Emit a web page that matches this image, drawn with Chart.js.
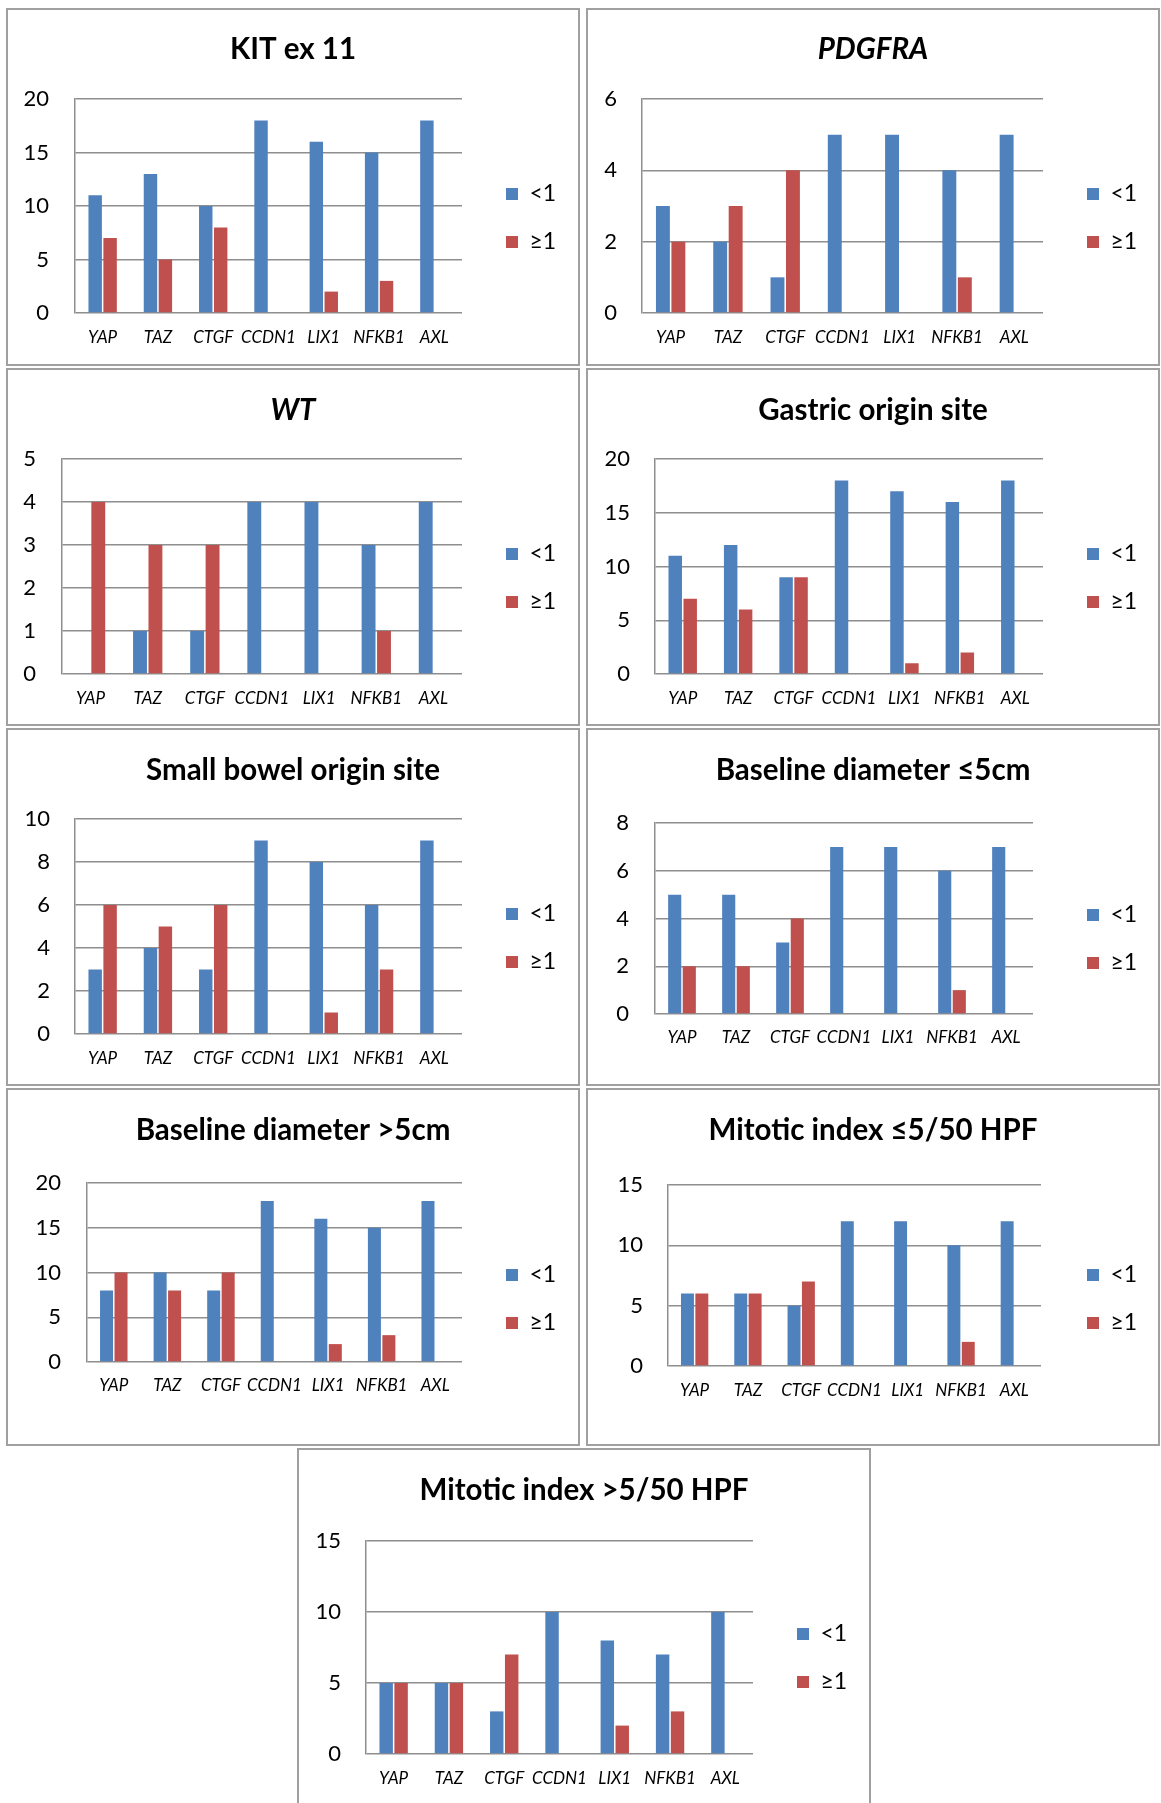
<!DOCTYPE html>
<html>
<head>
<meta charset="utf-8">
<script src="https://cdn.jsdelivr.net/npm/chart.js@4.4.1/dist/chart.umd.min.js"></script>
<style>
body { margin: 0; background: #fff; width: 1161px; height: 1803px; overflow: hidden; position: relative; }
.panel { position: absolute; width: 574px; height: 358px; }
.frame { position: absolute; left: 0; top: 0; width: 574px; height: 358px; box-sizing: border-box; border: 2px solid #a0a0a0; }
.panel canvas { position: absolute; left: 0; top: 0; }
</style>
</head>
<body>
<script>
var categories = ['YAP', 'TAZ', 'CTGF', 'CCDN1', 'LIX1', 'NFKB1', 'AXL'];
var seriesNames = ['<1', '\u22651'];

var titles = ['KIT ex 11', 'PDGFRA', 'WT', 'Gastric origin site', 'Small bowel origin site',
    'Baseline diameter \u22645cm', 'Baseline diameter >5cm', 'Mitotic index \u22645/50 HPF', 'Mitotic index >5/50 HPF'];
var italicTitle = [false, true, true, false, false, false, false, false, false];

var kitLow = [11, 13, 10, 18, 16, 15, 18];
var kitHigh = [7, 5, 8, 0, 2, 3, 0];
var pdgfraLow = [3, 2, 1, 5, 5, 4, 5];
var pdgfraHigh = [2, 3, 4, 0, 0, 1, 0];
var wtLow = [0, 1, 1, 4, 4, 3, 4];
var wtHigh = [4, 3, 3, 0, 0, 1, 0];
var gastricLow = [11, 12, 9, 18, 17, 16, 18];
var gastricHigh = [7, 6, 9, 0, 1, 2, 0];
var bowelLow = [3, 4, 3, 9, 8, 6, 9];
var bowelHigh = [6, 5, 6, 0, 1, 3, 0];
var smallDiamLow = [5, 5, 3, 7, 7, 6, 7];
var smallDiamHigh = [2, 2, 4, 0, 0, 1, 0];
var bigDiamLow = [8, 10, 8, 18, 16, 15, 18];
var bigDiamHigh = [10, 8, 10, 0, 2, 3, 0];
var lowMitLow = [6, 6, 5, 12, 12, 10, 12];
var lowMitHigh = [6, 6, 7, 0, 0, 2, 0];
var highMitLow = [5, 5, 3, 10, 8, 7, 10];
var highMitHigh = [5, 5, 7, 0, 2, 3, 0];

var lowSeries = [kitLow, pdgfraLow, wtLow, gastricLow, bowelLow, smallDiamLow, bigDiamLow, lowMitLow, highMitLow];
var highSeries = [kitHigh, pdgfraHigh, wtHigh, gastricHigh, bowelHigh, smallDiamHigh, bigDiamHigh, lowMitHigh, highMitHigh];

var yMax = [20, 6, 5, 20, 10, 8, 20, 15, 15];
var yStep = [5, 2, 1, 5, 2, 2, 5, 5, 5];

// panel x, panel y, plot left, top, right, bottom, title centre y, x label centre y, y label right edge
var boxes = [
    [6, 8, 69, 91, 456, 305, 41, 330, 43],
    [586, 8, 56, 91, 457, 305, 41, 330, 31],
    [6, 368, 56, 91, 456, 306, 42, 331, 30],
    [586, 368, 69, 91, 457, 306, 42, 331, 44],
    [6, 728, 69, 91, 456, 306, 42, 331, 44],
    [586, 728, 69, 95, 447, 286, 42, 310, 43],
    [6, 1088, 81, 95, 456, 274, 42, 298, 55],
    [586, 1088, 82, 97, 455, 278, 42, 303, 57],
    [297, 1448, 69, 93, 456, 306, 42, 331, 44]
];
// legend: first item centre y, box left x
var legendPos = [
    [186, 500], [186, 501], [186, 500], [186, 501], [186, 500],
    [187, 501], [187, 500], [187, 501], [186, 500]
];

var W = 574, H = 358;
var FONT = "Lato, 'Carlito', 'DejaVu Sans', sans-serif";
var GRID = '#8e8e8e';
var TITLE_SIZE = 29.5;

var placeBlocks = {
    id: 'placeBlocks',
    afterLayout: function (chart, args, opts) {
        var lg = chart.legend;
        var pad = lg.options.labels.padding;
        lg.left = opts.x - pad;
        lg.width = 100;
        lg.right = lg.left + 100;
        lg.top = opts.y - pad - 11.5;
        lg.height = 200;
        lg.bottom = lg.top + 200;

        var tb = chart.titleBlock;
        tb.left = 0;
        tb.width = W;
        tb.right = W;
    }
};

function makeChart(i)
{
    var b = boxes[i];
    var wrap = document.createElement('div');
    wrap.className = 'panel';
    wrap.style.left = b[0] + 'px';
    wrap.style.top = b[1] + 'px';
    var frame = document.createElement('div');
    frame.className = 'frame';
    wrap.appendChild(frame);
    var canvas = document.createElement('canvas');
    canvas.width = W;
    canvas.height = H;
    wrap.appendChild(canvas);
    document.body.appendChild(wrap);

    var plotLeft = b[2], plotTop = b[3], plotRight = b[4], plotBottom = b[5];
    var titleLine = TITLE_SIZE * 1.2;
    var xAxisH = 40;

    new Chart(canvas, {
        type: 'bar',
        data: {
            labels: categories,
            datasets: [
                { label: seriesNames[0], data: lowSeries[i], backgroundColor: '#4F81BD', borderWidth: 0 },
                { label: seriesNames[1], data: highSeries[i], backgroundColor: '#C0504D', borderWidth: 0 }
            ]
        },
        options: {
            responsive: false,
            animation: false,
            devicePixelRatio: 1,
            layout: {
                padding: { top: 0, left: 0, right: W - plotRight - 20, bottom: H - plotBottom - xAxisH }
            },
            datasets: {
                bar: { barPercentage: 0.9, categoryPercentage: 0.54 }
            },
            plugins: {
                title: {
                    display: true,
                    text: titles[i],
                    color: '#000',
                    font: { family: FONT, size: TITLE_SIZE, weight: 'bold', style: italicTitle[i] ? 'italic' : 'normal', lineHeight: 1.2 },
                    padding: { top: b[6] - titleLine / 2, bottom: plotTop - b[6] - titleLine / 2 }
                },
                legend: {
                    display: true,
                    position: 'right',
                    align: 'start',
                    maxWidth: 20,
                    labels: {
                        color: '#000',
                        boxWidth: 12,
                        boxHeight: 12,
                        padding: 25,
                        font: { family: FONT, size: 23 }
                    }
                },
                placeBlocks: { x: legendPos[i][1], y: legendPos[i][0] },
                tooltip: { enabled: false }
            },
            scales: {
                x: {
                    grid: { display: false, drawTicks: false },
                    border: { display: false },
                    ticks: {
                        color: '#000',
                        padding: b[7] - plotBottom - 10.2,
                        maxRotation: 0,
                        autoSkip: false,
                        font: { family: FONT, size: 17, style: 'italic' }
                    },
                    afterFit: function (scale) { scale.height = xAxisH; }
                },
                y: {
                    min: 0,
                    max: yMax[i],
                    grid: { color: GRID, lineWidth: 1.5, drawTicks: false },
                    border: { display: true, color: GRID, width: 1.5 },
                    ticks: {
                        stepSize: yStep[i],
                        color: '#000',
                        padding: plotLeft - b[8],
                        font: { family: FONT, size: 22 }
                    },
                    afterFit: function (scale) { scale.width = plotLeft; }
                }
            }
        },
        plugins: [placeBlocks]
    });
}

for (var i = 0; i < boxes.length; i++) {
    makeChart(i);
}
</script>
</body>
</html>
